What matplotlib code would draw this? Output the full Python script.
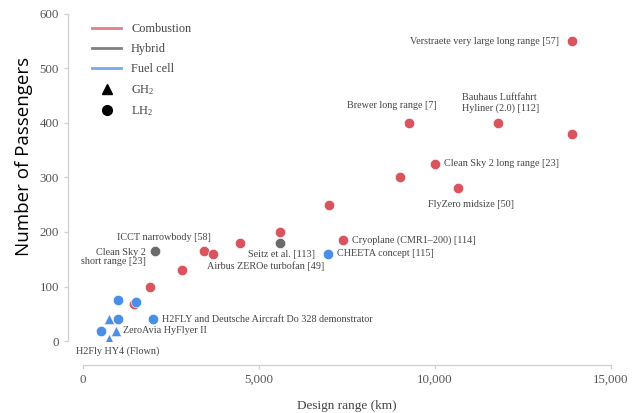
import matplotlib
matplotlib.use("Agg")
import matplotlib.pyplot as plt
from matplotlib.lines import Line2D
from matplotlib.ticker import FuncFormatter

# ---- data: design range (km) vs. number of passengers ----
combustion_range = [13900, 9250, 11800, 13900, 10000, 9000, 10650, 7000, 5600, 7400,
                    4450, 3450, 3700, 2800, 1900, 1450]
combustion_pax = [550, 400, 400, 380, 325, 300, 280, 250, 200, 185,
                  180, 165, 160, 130, 100, 67]

hybrid_range = [2050, 5600]
hybrid_pax = [165, 180]

fuelcell_lh2_range = [6950, 1000, 1500, 2000, 1000, 500]
fuelcell_lh2_pax = [160, 76, 72, 40, 40, 19]

fuelcell_gh2_range = [750, 950, 750]
fuelcell_gh2_pax = [40, 19, 4]

x_ticks = [0, 5000, 10000, 15000]
y_ticks = [0, 100, 200, 300, 400, 500, 600]

# labels: (text, x, y, dx_px, dy_px, ha)
labels = [
    ("Verstraete very large long range [57]", 13900, 550, -13, 0, "right"),
    ("Brewer long range [7]", 9250, 400, 28, 17, "right"),
    ("Bauhaus Luftfahrt\nHyliner (2.0) [112]", 11800, 400, -36, 20, "left"),
    ("Clean Sky 2 long range [23]", 10000, 325, 9, 0, "left"),
    ("FlyZero midsize [50]", 10650, 280, 13, -16, "center"),
    ("Cryoplane (CMR1–200) [114]", 7400, 185, 9, 0, "left"),
    ("CHEETA concept [115]", 6950, 160, 9, 0, "left"),
    ("Seitz et al. [113]", 5600, 180, 35, -12, "right"),
    ("Airbus ZEROe turbofan [49]", 3700, 160, -6, -12, "left"),
    ("ICCT narrowbody [58]", 3450, 165, 6, 14, "right"),
    ("Clean Sky 2\nshort range [23]", 2050, 165, -9, -6, "right"),
    ("H2FLY and Deutsche Aircraft Do 328 demonstrator", 2000, 40, 9, 0, "left"),
    ("ZeroAvia HyFlyer II", 950, 19, 7, 0, "left"),
    ("H2Fly HY4 (Flown)", 750, 4, 8, -12, "center"),
]

RED = "#d9545f"
GRAY = "#6b6b6b"
BLUE = "#4a8ee6"
TEXT = "#444444"
SERIF = ["Liberation Serif", "DejaVu Serif"]

plt.rcParams["mathtext.fontset"] = "custom"
plt.rcParams["mathtext.rm"] = "Liberation Serif"
plt.rcParams["mathtext.it"] = "Liberation Serif:italic"

W, H = 634, 413
fig = plt.figure(figsize=(W / 100, H / 100), dpi=100)
x0, x1 = 83, 611
y0, y1 = 341, 14
ax = fig.add_axes([x0 / W, 1 - y0 / H, (x1 - x0) / W, (y0 - y1) / H])
ax.set_xlim(0, 15000)
ax.set_ylim(0, 600)

ms = 55
edge = dict(edgecolors="white", linewidths=0.4)
ax.scatter(combustion_range, combustion_pax, s=ms, color=RED, marker="o", zorder=3, **edge)
ax.scatter(hybrid_range, hybrid_pax, s=ms, color=GRAY, marker="o", zorder=3, **edge)
ax.scatter(fuelcell_lh2_range, fuelcell_lh2_pax, s=ms, color=BLUE, marker="o", zorder=4, **edge)
ax.scatter(fuelcell_gh2_range, fuelcell_gh2_pax, s=ms, color=BLUE, marker="^", zorder=4, **edge)

for text, x, y, dx, dy, ha in labels:
    ax.annotate(text, (x, y), xytext=(dx * 0.72, dy * 0.72), textcoords="offset points",
                ha=ha, va="center", fontsize=7.3, family=SERIF, color=TEXT,
                multialignment=ha, linespacing=1.1, zorder=5)

# offset, light spines
for side in ("top", "right"):
    ax.spines[side].set_visible(False)
ax.spines["left"].set_position(("outward", 15 * 0.72))
ax.spines["bottom"].set_position(("outward", 24 * 0.72))
for side in ("left", "bottom"):
    ax.spines[side].set_color("#cfcfcf")
    ax.spines[side].set_linewidth(0.9)

ax.set_xticks(x_ticks)
ax.set_yticks(y_ticks)
ax.xaxis.set_major_formatter(FuncFormatter(lambda v, p: f"{int(v):,}"))
ax.tick_params(axis="both", colors="#cfcfcf", labelcolor="#555555", length=3, width=0.9,
               labelsize=9.3)
for lab in ax.get_xticklabels() + ax.get_yticklabels():
    lab.set_family(SERIF)

ax.set_xlabel("Design range (km)", family=SERIF, fontsize=9.5, color=TEXT, labelpad=10)
ax.set_ylabel("Number of Passengers", family=["Open Sans", "DejaVu Sans"], fontsize=13.5,
              color="black", labelpad=5)
ax.yaxis.label.set_y(0.563)

handles = [
    Line2D([], [], color=RED, lw=2, alpha=0.75),
    Line2D([], [], color=GRAY, lw=2, alpha=0.85),
    Line2D([], [], color=BLUE, lw=2, alpha=0.75),
    Line2D([], [], color="black", marker="^", ls="none", ms=7),
    Line2D([], [], color="black", marker="o", ls="none", ms=7),
]
names = ["Combustion", "Hybrid", "Fuel cell", "GH$_2$", "LH$_2$"]
leg = fig.legend(handles, names, loc="upper left", bbox_to_anchor=(92 / W, 1 - 23 / H),
                 frameon=False, borderpad=0, borderaxespad=0, handlelength=2.4,
                 handletextpad=0.8, labelspacing=0.65,
                 prop={"family": SERIF, "size": 8.8})
for t in leg.get_texts():
    t.set_color(TEXT)

fig.savefig("out.png", dpi=100)
